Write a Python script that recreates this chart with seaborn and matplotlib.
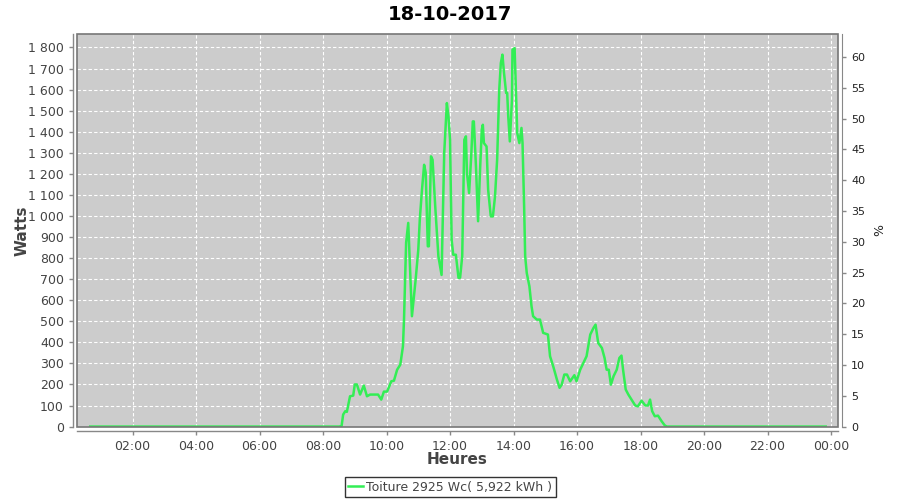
import matplotlib
matplotlib.use("Agg")
import matplotlib.pyplot as plt
from matplotlib.ticker import FuncFormatter, MultipleLocator
from matplotlib.patches import Rectangle
import seaborn as sns
import pandas as pd

title = "18-10-2017"
series_name = "Toiture 2925 Wc( 5,922 kWh )"
peak_wc = 2925

times = ["00:40", "08:30", "08:35", "08:38", "08:42", "08:45", "08:51", "08:57", "09:00",
         "09:04", "09:10", "09:17", "09:23", "09:29", "09:44", "09:50", "09:55", "10:01",
         "10:09", "10:14", "10:20", "10:26", "10:31", "10:33", "10:35", "10:37", "10:41",
         "10:48", "10:55", "11:00", "11:03", "11:07", "11:11", "11:14", "11:18", "11:20",
         "11:24", "11:27", "11:32", "11:38", "11:44", "11:49", "11:54", "11:57", "12:00",
         "12:03", "12:06", "12:11", "12:16", "12:19", "12:23", "12:27", "12:30", "12:32",
         "12:36", "12:40", "12:43", "12:45", "12:49", "12:53", "12:57", "13:00", "13:02",
         "13:04", "13:09", "13:12", "13:17", "13:21", "13:25", "13:29", "13:33", "13:36",
         "13:39", "13:42", "13:46", "13:48", "13:50", "13:53", "13:57", "13:58", "14:02",
         "14:05", "14:07", "14:11", "14:15", "14:17", "14:20", "14:22", "14:25", "14:30",
         "14:34", "14:37", "14:44", "14:50", "14:56", "15:05", "15:09", "15:15", "15:22",
         "15:27", "15:31", "15:36", "15:41", "15:47", "15:55", "15:59", "16:06", "16:12",
         "16:18", "16:25", "16:31", "16:35", "16:40", "16:47", "16:52", "16:56", "17:00",
         "17:04", "17:09", "17:15", "17:20", "17:24", "17:27", "17:32", "17:37", "17:43",
         "17:50", "17:55", "18:02", "18:09", "18:14", "18:18", "18:22", "18:27", "18:33",
         "18:40", "18:46", "18:50", "23:50"]
watts = [0, 0, 2, 57, 73, 70, 144, 147, 200,
         200, 152, 195, 144, 152, 152, 128, 166, 166,
         215, 218, 270, 294, 381, 508, 698, 873, 967,
         524, 698, 840, 990, 1125, 1243, 1205, 856, 856,
         1283, 1267, 1046, 808, 720, 1299, 1536, 1473, 1362,
         887, 816, 816, 706, 707, 808, 1362, 1378, 1204,
         1109, 1283, 1449, 1449, 1235, 975, 1235, 1410, 1433,
         1346, 1330, 1125, 998, 998, 1093, 1267, 1600, 1726,
         1766, 1679, 1584, 1584, 1473, 1354, 1552, 1789, 1797,
         1552, 1394, 1346, 1418, 1346, 1046, 808, 729, 666,
         571, 524, 508, 508, 445, 437, 334, 286, 223,
         184, 199, 247, 247, 215, 244, 215, 270, 302,
         334, 437, 468, 484, 397, 373, 326, 270, 270,
         199, 239, 270, 326, 337, 270, 176, 152, 128,
         100, 96, 123, 100, 100, 128, 73, 49, 52,
         25, 5, 0, 0]
tick_hours = [2, 4, 6, 8, 10, 12, 14, 16, 18, 20, 22, 24]
tick_labels = ["02:00", "04:00", "06:00", "08:00", "10:00", "12:00",
               "14:00", "16:00", "18:00", "20:00", "22:00", "00:00"]

def to_hours(s):
    h, m = s.split(":")
    return int(h) + int(m) / 60.0

df = pd.DataFrame({"heure": [to_hours(t) for t in times], "watts": watts})

plt.rcParams["font.family"] = ["DejaVu Sans"]
fig = plt.figure(figsize=(9, 5), dpi=100)
fig.patch.set_facecolor("white")
ax = fig.add_axes([77 / 900, 1 - 427 / 500, (838 - 77) / 900, (427 - 34) / 500])
ax.set_facecolor("#cccccc")

green = "#33ee55"
sns.lineplot(data=df, x="heure", y="watts", ax=ax, color=green, linewidth=1.8,
             label=series_name, legend=False)

ymin, ymax = -2, 1864
ax.set_xlim(0.25, 24.22)
ax.set_ylim(ymin, ymax)
ax.yaxis.set_major_locator(MultipleLocator(100))
ax.yaxis.set_major_formatter(FuncFormatter(lambda v, p: f"{int(round(v)):,}".replace(",", " ")))
ax.set_xticks(tick_hours)
ax.set_xticklabels(tick_labels)
ax.grid(True, color="white", linestyle=(0, (3, 2)), linewidth=0.8)
ax.set_axisbelow(True)

tc = "#444444"
for side in ["top", "right"]:
    ax.spines[side].set_visible(False)
for side in ["left", "bottom"]:
    ax.spines[side].set_position(("outward", 3))
    ax.spines[side].set_color("#888888")
    ax.spines[side].set_linewidth(1)
ax.tick_params(axis="both", colors="#888888", labelcolor=tc, labelsize=9,
               length=3, width=1)
ax.set_xlabel("Heures", fontsize=11, fontweight="bold", color=tc)
ax.set_ylabel("Watts", fontsize=11, fontweight="bold", color=tc)
ax.yaxis.set_label_coords((30 - 77) / 761, 0.5)
ax.xaxis.set_label_coords(0.5, (427 - 452) / 393)

ax.add_patch(Rectangle((0, 0), 1, 1, transform=ax.transAxes, fill=False,
                       edgecolor="#777777", linewidth=1.2, clip_on=False, zorder=5))

ax2 = ax.twinx()
ax2.set_ylim(ymin / peak_wc * 100, ymax / peak_wc * 100)
ax2.yaxis.set_major_locator(MultipleLocator(5))
ax2.yaxis.set_major_formatter(FuncFormatter(lambda v, p: f"{int(round(v))}"))
for side in ["top", "left", "bottom"]:
    ax2.spines[side].set_visible(False)
ax2.spines["right"].set_position(("outward", 3))
ax2.spines["right"].set_color("#888888")
ax2.tick_params(axis="y", colors="#888888", labelcolor="#222222", labelsize=8,
                length=3, width=1)
ax2.set_ylabel("%", fontsize=9, color="#222222", labelpad=6)

fig.suptitle(title, x=0.5, y=0.99, fontsize=14, fontweight="bold", color="black")

handles, labels = ax.get_legend_handles_labels()
leg = fig.legend(handles, labels, loc="center", bbox_to_anchor=(450 / 900, 1 - 487 / 500),
                 frameon=True, fancybox=False, fontsize=9, handlelength=1.2,
                 handletextpad=0.2, borderpad=0.3, borderaxespad=0)
leg.get_frame().set_edgecolor("black")
leg.get_frame().set_linewidth(1)
for t in leg.get_texts():
    t.set_color(tc)

fig.savefig("out.png", dpi=100)
